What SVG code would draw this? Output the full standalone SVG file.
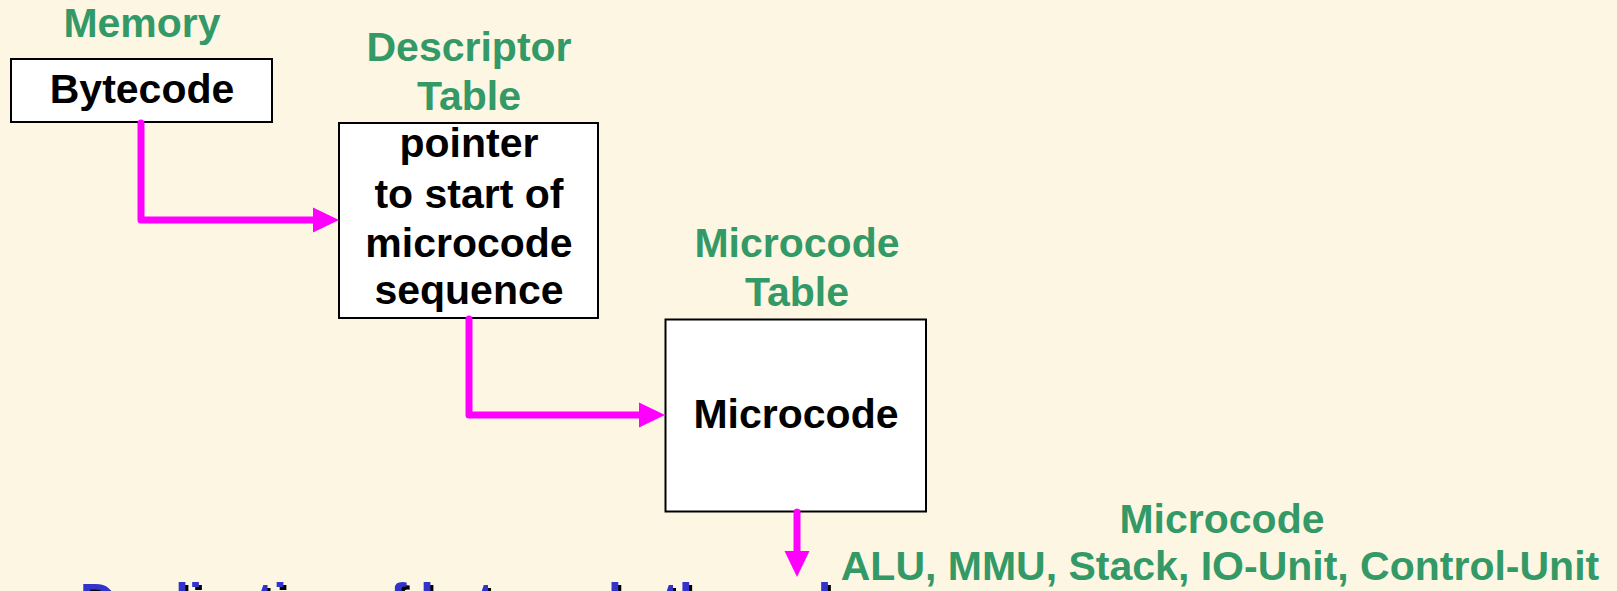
<svg xmlns="http://www.w3.org/2000/svg" width="1617" height="591" viewBox="0 0 1617 591">
  <style>
    text { font-family: "Liberation Sans", Arial, sans-serif; font-weight: bold; }
    .title { fill: #339966; font-size: 41px; text-anchor: middle; }
    .body { fill: #000000; font-size: 41px; text-anchor: middle; }
    .box { fill: #FFFFFF; stroke: #000000; stroke-width: 2; }
    .conn { fill: none; stroke: #FF00FF; stroke-width: 7; stroke-linecap: round; stroke-linejoin: round; }
    .note { font-size: 49px; }
  </style>
  <defs>
    <marker id="ah" markerUnits="userSpaceOnUse" markerWidth="26" markerHeight="26" viewBox="0 0 26 26" refX="0" refY="13" orient="auto">
      <path d="M0,0.5 L26,13 L0,25.5 Z" fill="#FF00FF"/>
    </marker>
  </defs>
  <rect x="0" y="0" width="1617" height="591" fill="#FDF6E3"/>

  <g id="node-bytecode">
    <text class="title" x="142" y="37">Memory</text>
    <rect class="box" x="11" y="59" width="261" height="63"/>
    <text class="body" x="142" y="103">Bytecode</text>
  </g>

  <g id="node-descriptor">
    <text class="title" x="469" y="61">Descriptor</text>
    <text class="title" x="469" y="110">Table</text>
    <rect class="box" x="339" y="123" width="259" height="195"/>
    <text class="body" x="469" y="157">pointer</text>
    <text class="body" x="469" y="208">to start of</text>
    <text class="body" x="469" y="257">microcode</text>
    <text class="body" x="469" y="304">sequence</text>
  </g>

  <g id="node-microcode">
    <text class="title" x="797" y="257">Microcode</text>
    <text class="title" x="797" y="306">Table</text>
    <rect class="box" x="665.5" y="319.5" width="260.5" height="192"/>
    <text class="body" x="796" y="428">Microcode</text>
  </g>

  <g id="node-units">
    <text class="title" x="1222" y="533">Microcode</text>
    <text class="title" x="1220" y="580">ALU, MMU, Stack, IO-Unit, Control-Unit</text>
  </g>

  <g id="connectors">
    <path class="conn" d="M141,123 V220 H313" marker-end="url(#ah)"/>
    <path class="conn" d="M469,319 V415 H639" marker-end="url(#ah)"/>
    <path class="conn" d="M797,512 V551" marker-end="url(#ah)"/>
  </g>

  <g id="caption">
    <text class="note" x="83" y="620" fill="#000000">Duplication of byte code through</text>
    <text class="note" x="80" y="617" fill="#3333CC">Duplication of byte code through</text>
  </g>
</svg>
